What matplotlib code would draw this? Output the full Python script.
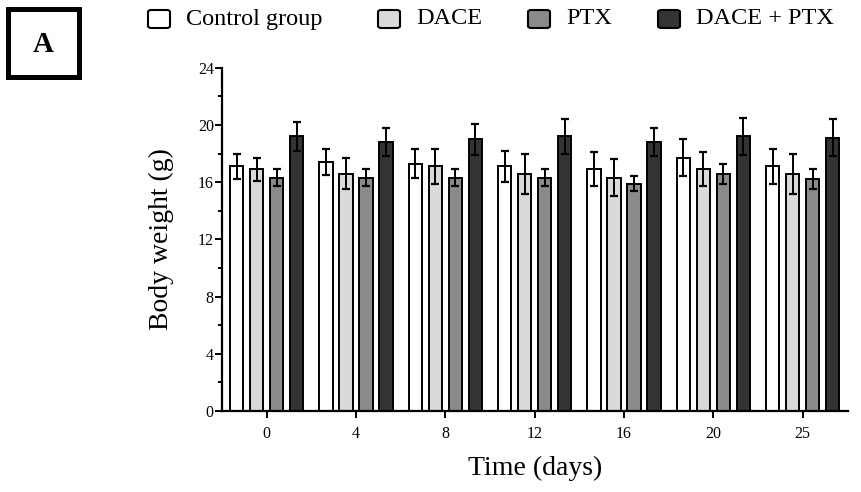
import numpy as np
import matplotlib
matplotlib.use("Agg")
import matplotlib.pyplot as plt
from matplotlib.patches import FancyBboxPatch, Rectangle

plt.rcParams['font.family'] = ['Liberation Serif', 'DejaVu Serif']

# data
days = ['0', '4', '8', '12', '16', '20', '25']
groups = ['Control group', 'DACE', 'PTX', 'DACE + PTX']
colors = ['#ffffff', '#d9d9d9', '#8a8a8a', '#333333']

control = [17.1, 17.4, 17.3, 17.1, 16.9, 17.7, 17.1]
dace    = [16.9, 16.6, 17.1, 16.6, 16.3, 16.9, 16.6]
ptx     = [16.3, 16.3, 16.3, 16.3, 15.9, 16.6, 16.2]
combo   = [19.2, 18.8, 19.0, 19.2, 18.8, 19.2, 19.1]

control_err = [0.9, 0.9, 1.0, 1.1, 1.2, 1.3, 1.2]
dace_err    = [0.8, 1.1, 1.2, 1.4, 1.3, 1.2, 1.4]
ptx_err     = [0.6, 0.6, 0.6, 0.6, 0.5, 0.7, 0.7]
combo_err   = [1.0, 1.0, 1.1, 1.2, 1.0, 1.3, 1.3]

means = [control, dace, ptx, combo]
errs = [control_err, dace_err, ptx_err, combo_err]

fig = plt.figure(figsize=(8.61, 4.92), dpi=100)
ax = fig.add_axes([0.258, 0.165, 0.727, 0.697])

x = np.arange(len(days))
step = 0.224
width = 0.148
for k in range(4):
    pos = x + (k - 1.5) * step
    ax.bar(pos, means[k], width=width, color=colors[k], edgecolor='black',
           linewidth=1.4, zorder=2)
    ax.errorbar(pos, means[k], yerr=errs[k], fmt='none', ecolor='black',
                elinewidth=1.4, capsize=3, capthick=1.6, zorder=3)

ax.set_ylim(0, 24)
ax.set_xlim(-0.5, 6.51)
ax.set_yticks(np.arange(0, 25, 4))
ax.set_yticks(np.arange(2, 24, 4), minor=True)
ax.set_xticks(x)
ax.set_xticklabels(days)
ax.tick_params(axis='both', which='major', direction='out', length=5, width=1.4,
               labelsize=11.5)
ax.tick_params(axis='x', which='major', pad=6)
ax.tick_params(axis='y', which='major', pad=1)
ax.tick_params(axis='y', which='minor', direction='out', length=3, width=1.4)
for s in ['top', 'right']:
    ax.spines[s].set_visible(False)
for s in ['left', 'bottom']:
    ax.spines[s].set_linewidth(1.6)

ax.set_ylabel('Body weight (g)', fontsize=20, labelpad=17)
ax.set_xlabel('Time (days)', fontsize=20, labelpad=10)

# legend along the top
leg_x = [148, 378, 528, 658]
for k in range(4):
    fig.patches.append(FancyBboxPatch((leg_x[k] / 861, 1 - 28 / 492), 22 / 861, 18 / 492,
                                      boxstyle='round,pad=0,rounding_size=0.004',
                                      transform=fig.transFigure, facecolor=colors[k],
                                      edgecolor='black', linewidth=1.5))
    fig.text((leg_x[k] + 38) / 861, 1 - 19 / 492, groups[k], fontsize=17.5,
             va='center', ha='left')

# panel label
fig.patches.append(Rectangle((8 / 861, 1 - 77 / 492), 71 / 861, 68 / 492,
                             transform=fig.transFigure, facecolor='white',
                             edgecolor='black', linewidth=3.6))
fig.text(43 / 861, 1 - 44 / 492, 'A', fontsize=21, fontweight='bold',
         ha='center', va='center')

fig.savefig('out.png', dpi=100)
